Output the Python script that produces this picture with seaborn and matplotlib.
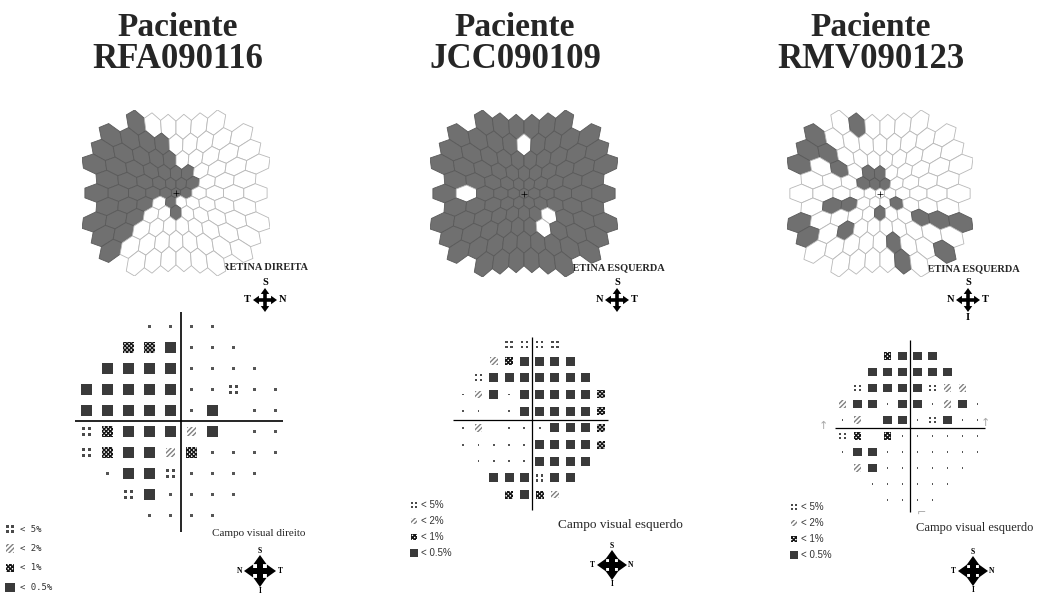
import numpy as np
import pandas as pd
import matplotlib
matplotlib.use("Agg")
import matplotlib.pyplot as plt
from matplotlib.collections import PolyCollection
from matplotlib.path import Path
import seaborn as sns

sns.set_theme(style="white")
plt.rcParams["font.family"] = ["Liberation Serif", "DejaVu Serif"]
plt.rcParams["hatch.linewidth"] = 1.0

W, H = 1041, 595

patients = ["RFA090116", "JCC090109", "RMV090123"]
retina_labels = ["RETINA DIREITA", "RETINA ESQUERDA", "RETINA ESQUERDA"]
field_labels = ["Campo visual direito", "Campo visual esquerdo", "Campo visual esquerdo"]
legend_codes = [":", "z", "x", "#"]
legend_texts = ["< 5%", "< 2%", "< 1%", "< 0.5%"]

# mfERG 103 hexagon array, row by row (top to bottom); 1 = reduced response
hex_row_counts = [6, 9, 10, 11, 10, 11, 10, 11, 10, 9, 6]
hex_rfa = ["100000", "111100000", "1111100000", "11111110000", "1111111000",
           "11111110000", "1110100000", "11100100000", "1100000000", "100000000", "000000"]
hex_jcc = ["111111", "111101111", "1111111111", "11111111111", "1111111111",
           "10111111111", "1111111111", "11111110111", "1111110111", "111111111", "111111"]
hex_rmv = ["010000", "100000000", "1100000000", "10101100000", "0001110000",
           "00000000000", "0110001000", "10000100111", "1010000000", "000001001", "000010"]

# visual field probability plots, 10 x 10 grid
# "." normal, ":" < 5%, "z" < 2%, "x" < 1%, "#" < 0.5%, " " no point
field_rfa = ["   ....   ",
             "  xx#...  ",
             " ####.... ",
             "#####..:..",
             "#####.# ..",
             ":x###z# ..",
             ":x##zx....",
             " .##:.... ",
             "  :#....  ",
             "   ....   "]
field_jcc = ["   ::::   ",
             "  zx####  ",
             " :####### ",
             ".z#.#####x",
             ".. .#####x",
             ".z ...###x",
             ".....####x",
             " ....#### ",
             "  ###:##  ",
             "   x#xz   "]
field_rmv = ["   x###   ",
             "  ######  ",
             " :####:zz ",
             "z##.##.z#.",
             ".z ##.:#..",
             ":x x......",
             ".##.......",
             " z#...... ",
             "  ......  ",
             "   ....   "]

hex_maps = [hex_rfa, hex_jcc, hex_rmv]
fields = [field_rfa, field_jcc, field_rmv]

# layout (pixels)
layout = [
    dict(tx=178, hexbox=(82, 110, 270, 276), ret=(265, 268),
         top=(265, 300, "T", "N", False), field=(181, 421, 21, 21),
         vl=(312, 532), hl=(75, 283), mark=12, lw=1.2,
         leg=(10, 529, 19.5, 20), legfont=("DejaVu Sans Mono", 6.5),
         cv=(212, 534, 8), bot=(260, 571, 16, "N", "T")),
    dict(tx=515, hexbox=(430, 110, 618, 277), ret=(615, 268),
         top=(617, 300, "N", "T", False), field=(532, 419.5, 15.3, 16.7),
         vl=(337, 510), hl=(453, 608), mark=9.5, lw=0.9,
         leg=(414, 505, 16, 421), legfont=("Liberation Sans", 7),
         cv=(558, 525, 9.5), bot=(612, 565, 15, "T", "N")),
    dict(tx=871, hexbox=(787, 110, 973, 277), ret=(970, 269),
         top=(968, 300, "N", "T", True), field=(910, 428, 15, 16),
         vl=(340, 512), hl=(835, 985), mark=9, lw=0.9,
         leg=(794, 507, 16, 801), legfont=("Liberation Sans", 7),
         cv=(916, 528, 9), bot=(973, 571, 15, "T", "N")),
]

fig = plt.figure(figsize=(W / 100, H / 100), dpi=100)
ov = fig.add_axes([0, 0, 1, 1])
ov.set_xlim(0, W)
ov.set_ylim(H, 0)
ov.axis("off")


def px_axes(x0, y0, x1, y1):
    return fig.add_axes([x0 / W, 1 - y1 / H, (x1 - x0) / W, (y1 - y0) / H])


def warp(x, y, k=0.18):
    g = 1 + k * np.hypot(x, y)
    return x * g, y * g


def hex_polys():
    polys = []
    rad = 1 / np.sqrt(3)
    ang = np.deg2rad(np.arange(30, 390, 60))
    for r, n in enumerate(hex_row_counts):
        for c in range(n):
            ox = c - (n - 1) / 2
            oy = (r - 5) * np.sqrt(3) / 2
            vx, vy = warp(ox + rad * np.cos(ang), oy + rad * np.sin(ang))
            polys.append(np.column_stack([vx, vy]))
    return polys


sq = np.array([[-1, -1], [1, -1], [1, 1], [-1, 1], [-1, -1]]) * 0.22
quad = Path.make_compound_path(*[Path(sq + [sx, sy], closed=True)
                                 for sx in (-0.5, 0.5) for sy in (-0.5, 0.5)])


def style(code, m):
    p = m * 0.72
    if code == "#":
        return dict(marker="s", s=(0.95 * p) ** 2, color="#3a3a3a", edgecolor="none", linewidth=0)
    if code == "x":
        return dict(marker="s", s=(0.85 * p) ** 2, color="white", edgecolor="#151515",
                    linewidth=0, hatch="xxxxxxxx")
    if code == "z":
        return dict(marker="s", s=(0.8 * p) ** 2, color="white", edgecolor="#808080",
                    linewidth=0, hatch="///////")
    if code == ":":
        return dict(marker=quad, s=(0.75 * p) ** 2, color="#4a4a4a", edgecolor="none", linewidth=0)
    return dict(marker="s", s=(0.2 * p) ** 2, color="#555555", edgecolor="none", linewidth=0)


def compass(cx, cy, arm, width, head, left, right, fs, show_i=True):
    for ux, uy in [(1, 0), (-1, 0), (0, 1), (0, -1)]:
        ov.arrow(cx, cy, ux * arm, uy * arm, width=width, head_width=head,
                 head_length=head * 0.7, length_includes_head=True, fc="black", ec="none")
    kw = dict(fontsize=fs, fontweight="bold", ha="center", va="center", color="black")
    off = arm + fs * 0.75
    ov.text(cx, cy - off, "S", **kw)
    ov.text(cx - off, cy, left, **kw)
    ov.text(cx + off, cy, right, **kw)
    if show_i:
        ov.text(cx, cy + off, "I", **kw)


polys = hex_polys()
allv = np.concatenate(polys)

for k in range(3):
    L = layout[k]
    # titles
    ov.text(L["tx"], 27, "Paciente", fontsize=24, fontweight="bold", ha="center", va="center")
    ov.text(L["tx"], 59, patients[k], fontsize=25, fontweight="bold", ha="center", va="center")

    # mfERG hexagon map
    ax = px_axes(*L["hexbox"])
    rows = hex_maps[k]
    assert [len(r) for r in rows] == hex_row_counts
    flags = np.array([ch == "1" for row in rows for ch in row])
    faces = np.where(flags, "#707070", "white")
    edges = np.where(flags, "#5a5a5a", "#b8b8b8")
    pc = PolyCollection(polys, facecolors=faces, edgecolors=edges, linewidths=0.6)
    ax.add_collection(pc)
    ax.scatter([0], [0], marker="+", s=14, color="black", linewidths=0.5)
    ax.set_xlim(allv[:, 0].min(), allv[:, 0].max())
    ax.set_ylim(allv[:, 1].max(), allv[:, 1].min())
    ax.axis("off")

    ov.text(*L["ret"], retina_labels[k], fontsize=7.5, fontweight="bold", ha="center", va="center")
    tx, ty, lft, rgt, show_i = L["top"]
    compass(tx, ty, 12, 3.6, 8.5, lft, rgt, 7.5, show_i)

    # visual field plot
    cx, cy, dx, dy = L["field"]
    fax = px_axes(cx - 5.6 * dx, cy - 5.6 * dy, cx + 5.6 * dx, cy + 5.6 * dy)
    recs = [{"col": i - 4.5, "row": j - 4.5, "code": ch}
            for j, row in enumerate(fields[k]) for i, ch in enumerate(row) if ch != " "]
    df = pd.DataFrame(recs)
    for code, sub in df.groupby("code"):
        sns.scatterplot(data=sub, x="col", y="row", ax=fax, legend=False, **style(code, L["mark"]))
    fax.vlines(0, (L["vl"][0] - cy) / dy, (L["vl"][1] - cy) / dy, color="black", lw=L["lw"])
    fax.hlines(0, (L["hl"][0] - cx) / dx, (L["hl"][1] - cx) / dx, color="black", lw=L["lw"])
    fax.set_xlim(-5.6, 5.6)
    fax.set_ylim(5.6, -5.6)
    fax.axis("off")

    # legend
    lx, ly, ldy, ltx = L["leg"]
    kd = pd.DataFrame({"x": [lx] * 4, "y": [ly + i * ldy for i in range(4)], "code": legend_codes})
    for code, sub in kd.groupby("code"):
        sns.scatterplot(data=sub, x="x", y="y", ax=ov, legend=False, **style(code, L["mark"] * 0.85))
    for i, t in enumerate(legend_texts):
        ov.text(ltx, ly + i * ldy, t, fontsize=L["legfont"][1], family=L["legfont"][0],
                ha="left", va="center", color="#333333")

    ov.text(L["cv"][0], L["cv"][1], field_labels[k], fontsize=L["cv"][2], ha="left", va="center")
    bx, by, barm, blft, brgt = L["bot"]
    compass(bx, by, barm, 6, 13, blft, brgt, 5.5, True)

# pencil marks on the third printout
for x, y, t in [(823, 426, "↑"), (985, 423, "↑"), (921, 514, "⌐")]:
    ov.text(x, y, t, fontsize=8, color="#a8a8a8", ha="center", va="center", family="DejaVu Sans")

ov.set_xlim(0, W)
ov.set_ylim(H, 0)
fig.savefig("out.png", dpi=100)
